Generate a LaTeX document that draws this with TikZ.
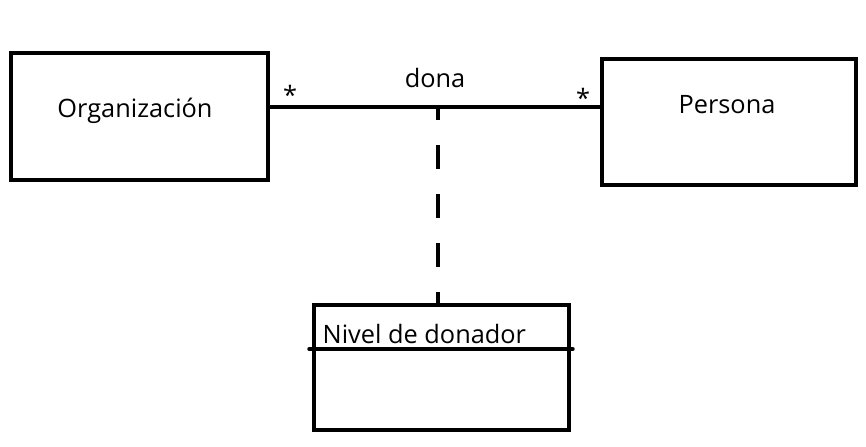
\documentclass[tikz,border=0pt]{standalone}
\usepackage{fontspec}
\setmainfont{Open Sans}
\usetikzlibrary{positioning}

\tikzset{
    classbox/.style={draw, line width=3.2pt, rectangle, inner sep=0pt},
    classname/.style={anchor=base, font=\fontsize{19}{22}\selectfont},
    mult/.style={anchor=base, font=\fontsize{19}{22}\selectfont},
    assocline/.style={line width=3.2pt},
    assocdash/.style={line width=3.4pt, dash pattern=on 18pt off 18.75pt, dash phase=8.25pt}
}

\begin{document}
\begin{tikzpicture}[x=0.75pt, y=-0.75pt]
    \useasboundingbox (0,0) rectangle (866,446);

    % ==========================================
    % Classes
    % ==========================================
    \node[classbox, minimum width=192.75pt, minimum height=95.25pt] (org) at (139.5,116.5) {};
    \node[classname] (orgname) at (135,117) {Organización};

    \node[classbox, minimum width=190.5pt, minimum height=94.5pt] (persona) at (729,122) {};
    \node[classname] (personaname) at (727,113) {Persona};

    % Association class
    \node[classbox, minimum width=191.25pt, minimum height=93.75pt] (nivel) at (441.5,367.5) {};
    \node[classname, anchor=base west] (nivelname) at (318,343) {Nivel de donador};
    \coordinate (sepl) at (309,349);
    \coordinate (sepr) at (573,349);
    \draw[line width=2.6pt, line cap=round] (sepl) -- (sepr);

    % ==========================================
    % Association
    % ==========================================
    \coordinate (assoc) at (438,107);
    \draw[assocline] (org.east |- assoc) -- (persona.west |- assoc);
    \node[classname] (dona) at (435,87) {dona};
    \node[mult] (multorg) at (290,104) {*};
    \node[mult] (multpers) at (583,107) {*};

    % Dashed link to association class
    \draw[assocdash] (assoc) -- (assoc |- nivel.north);
\end{tikzpicture}
\end{document}
